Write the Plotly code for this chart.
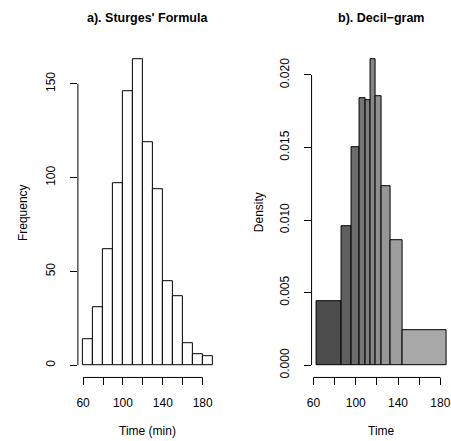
import plotly.graph_objects as go

# ---------------- data ----------------
sturges_breaks = [60, 70, 80, 90, 100, 110, 120, 130, 140, 150, 160, 170, 180, 190]
sturges_counts = [14, 31, 62, 97, 146, 163, 119, 94, 45, 37, 12, 6, 5]

decile_breaks = [63.1, 86.2, 96.5, 103.7, 108.9, 114.0, 118.9, 124.5, 132.7, 143.9, 186.0]
decile_density = [0.00440, 0.00961, 0.01504, 0.01841, 0.01823, 0.02107,
                  0.01850, 0.01233, 0.00860, 0.00241]
decile_colors = ["#4d4d4d", "#5f5f5f", "#6c6c6c", "#767676", "#7f7f7f",
                 "#878787", "#8f8f8f", "#969696", "#9e9e9e", "#a8a8a8"]

x_ticks = [60, 80, 100, 120, 140, 160, 180]
x_ticktext = ["60", "", "100", "", "140", "", "180"]
y1_ticks = [0, 50, 100, 150]
y2_ticks = [0.000, 0.005, 0.010, 0.015, 0.020]
y2_ticktext = ["0.000", "0.005", "0.010", "0.015", "0.020"]

W, H = 451, 441
FONT = "Liberation Sans, Arial, Helvetica, sans-serif"

def px_x(p):
    return p / W

def px_y(p):
    return (H - p) / H

fig = go.Figure()

# left histogram
s_mid = [(a + b) / 2 for a, b in zip(sturges_breaks[:-1], sturges_breaks[1:])]
s_w = [b - a for a, b in zip(sturges_breaks[:-1], sturges_breaks[1:])]
fig.add_trace(go.Bar(x=s_mid, y=sturges_counts, width=s_w,
                     marker=dict(color="white", line=dict(color="black", width=1)),
                     xaxis="x", yaxis="y", showlegend=False, hoverinfo="skip"))

# right decile histogram
d_mid = [(a + b) / 2 for a, b in zip(decile_breaks[:-1], decile_breaks[1:])]
d_w = [b - a for a, b in zip(decile_breaks[:-1], decile_breaks[1:])]
fig.add_trace(go.Bar(x=d_mid, y=decile_density, width=d_w,
                     marker=dict(color=decile_colors, line=dict(color="black", width=1)),
                     xaxis="x2", yaxis="y2", showlegend=False, hoverinfo="skip"))

tickfont = dict(family=FONT, size=12, color="black")
common_axis = dict(showgrid=False, zeroline=False, showline=False, ticks="outside",
                   ticklen=7, tickwidth=1, tickcolor="black", tickfont=tickfont,
                   fixedrange=True)
xcommon = dict(ticklabelstandoff=7, **common_axis)
ycommon = dict(ticklabelstandoff=10, tickangle=-90, **common_axis)

fig.update_layout(
    width=W, height=H,
    margin=dict(l=0, r=0, t=0, b=0),
    paper_bgcolor="white", plot_bgcolor="white",
    bargap=0,
    xaxis=dict(domain=[px_x(73.7), px_x(215.2)], range=[54.8, 195.2],
               tickvals=x_ticks, ticktext=x_ticktext, anchor="y", **xcommon),
    yaxis=dict(domain=[px_y(378.3), px_y(47.3)], range=[-6.52, 169.52],
               tickvals=y1_ticks, anchor="x", **ycommon),
    xaxis2=dict(domain=[px_x(310), 1.0], range=[58.2, 190.1],
                tickvals=x_ticks, ticktext=x_ticktext, anchor="y2", **xcommon),
    yaxis2=dict(domain=[px_y(378.3), px_y(47.3)], range=[-0.000843, 0.02191],
                tickvals=y2_ticks, ticktext=y2_ticktext, anchor="x2", **ycommon),
)

# R-style axis lines spanning first to last tick
line = dict(color="black", width=1)
fig.add_shape(type="line", xref="x", yref="y domain", x0=x_ticks[0], x1=x_ticks[-1],
              y0=0, y1=0, line=line)
fig.add_shape(type="line", xref="x domain", yref="y", x0=0, x1=0,
              y0=y1_ticks[0], y1=y1_ticks[-1], line=line)
fig.add_shape(type="line", xref="x2", yref="y2 domain", x0=x_ticks[0], x1=x_ticks[-1],
              y0=0, y1=0, line=line)
fig.add_shape(type="line", xref="x2 domain", yref="y2", x0=0, x1=0,
              y0=y2_ticks[0], y1=y2_ticks[-1], line=line)

def ann(text, x, y, size=12, bold=False, angle=0):
    fig.add_annotation(text=f"<b>{text}</b>" if bold else text,
                       xref="paper", yref="paper", x=px_x(x), y=px_y(y),
                       xanchor="center", yanchor="middle", showarrow=False,
                       textangle=angle, font=dict(family=FONT, size=size, color="black"))

ann("a). Sturges' Formula", 144.5, 18, size=12.5, bold=True)
ann("b). Decil\u2212gram", 380.5, 18, size=12.5, bold=True)
ann("Time (min)", 144.5, 432)
ann("Time", 381, 432)
ann("Frequency", 19, 212.8, angle=-90)
ann("Density", 256.7, 212.8, angle=-90)

fig.write_html("out.html", config=dict(displayModeBar=False),
               post_script="document.body.style.margin='0';document.body.style.overflow='hidden';")
